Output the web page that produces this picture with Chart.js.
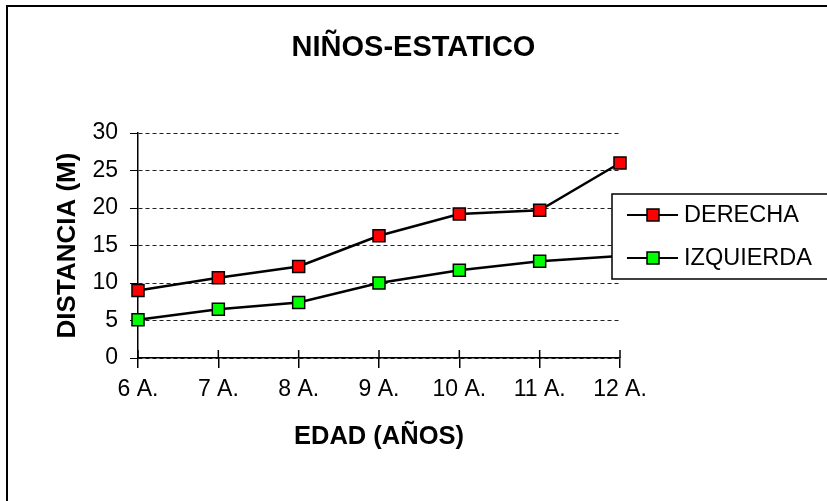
<!DOCTYPE html>
<html>
<head>
<meta charset="utf-8">
<script src="https://cdn.jsdelivr.net/npm/chart.js@4/dist/chart.umd.min.js"></script>
<style>
  html, body { margin: 0; padding: 0; background: #fff; }
  #wrap { width: 827px; height: 501px; }
</style>
</head>
<body>
<div id="wrap"><canvas id="myChart" width="827" height="501"></canvas></div>
<script>
// data
const edades = ['6 A.', '7 A.', '8 A.', '9 A.', '10 A.', '11 A.', '12 A.'];
const derecha = [9.0, 10.7, 12.2, 16.3, 19.2, 19.7, 26.0];
const izquierda = [5.1, 6.5, 7.4, 10.0, 11.7, 12.9, 13.6];
const yTicks = [0, 5, 10, 15, 20, 25, 30];

Chart.defaults.font.family = '"Liberation Sans", Arial, sans-serif';
Chart.defaults.color = '#000';

// frame lines round the picture (left + top only are visible)
const framePlugin = {
  id: 'frame',
  beforeDraw(chart) {
    const ctx = chart.ctx;
    ctx.save();
    ctx.fillStyle = '#fff';
    ctx.fillRect(0, 0, chart.width, chart.height);
    ctx.strokeStyle = '#000';
    ctx.lineWidth = 2;
    ctx.beginPath();
    ctx.moveTo(7, chart.height);
    ctx.lineTo(7, 6);
    ctx.lineTo(chart.width, 6);
    ctx.stroke();
    ctx.restore();
  }
};

// x tick marks also cross into the plot a little
const crossTicks = {
  id: 'crossTicks',
  afterDatasetsDraw(chart) {
    const x = chart.scales.x, ctx = chart.ctx, b = chart.chartArea.bottom;
    ctx.save();
    ctx.strokeStyle = '#000';
    ctx.lineWidth = 1.5;
    for (let i = 0; i < edades.length; i++) {
      const px = x.getPixelForTick(i);
      ctx.beginPath();
      ctx.moveTo(px, b - 8);
      ctx.lineTo(px, b);
      ctx.stroke();
    }
    ctx.restore();
  }
};

// legend box sits on top of the plot, like in the original
const boxLegend = {
  id: 'boxLegend',
  afterDraw(chart) {
    const ctx = chart.ctx;
    const left = 612, top = 194, bottom = 279;
    ctx.save();
    ctx.fillStyle = '#fff';
    ctx.fillRect(left, top, chart.width - left + 2, bottom - top);
    ctx.strokeStyle = '#000';
    ctx.lineWidth = 1.5;
    ctx.strokeRect(left, top, chart.width - left + 4, bottom - top);
    const rows = [215, 258];
    chart.data.datasets.forEach((ds, i) => {
      const y = rows[i];
      ctx.strokeStyle = '#000';
      ctx.lineWidth = 2;
      ctx.beginPath();
      ctx.moveTo(627, y);
      ctx.lineTo(678, y);
      ctx.stroke();
      ctx.fillStyle = ds.pointBackgroundColor;
      ctx.fillRect(647, y - 6, 12, 12);
      ctx.lineWidth = 1.5;
      ctx.strokeRect(647, y - 6, 12, 12);
      ctx.fillStyle = '#000';
      ctx.font = '23.5px "Liberation Sans", Arial, sans-serif';
      ctx.textBaseline = 'middle';
      ctx.textAlign = 'left';
      ctx.fillText(ds.label, 684, y + 1);
    });
    ctx.restore();
  }
};

new Chart(document.getElementById('myChart'), {
  type: 'line',
  data: {
    labels: edades,
    datasets: [
      {
        label: 'DERECHA',
        data: derecha,
        borderColor: '#000',
        borderWidth: 2.5,
        pointStyle: 'rect',
        pointRadius: 8.5,
        pointBackgroundColor: '#ff0000',
        pointBorderColor: '#000',
        pointBorderWidth: 1.5,
        tension: 0
      },
      {
        label: 'IZQUIERDA',
        data: izquierda,
        borderColor: '#000',
        borderWidth: 2.5,
        pointStyle: 'rect',
        pointRadius: 8.5,
        pointBackgroundColor: '#00ff00',
        pointBorderColor: '#000',
        pointBorderWidth: 1.5,
        tension: 0
      }
    ]
  },
  options: {
    responsive: false,
    animation: false,
    layout: { padding: { top: 0, left: 0, right: 0, bottom: 33 } },
    plugins: {
      legend: { display: false },
      tooltip: { enabled: false },
      title: {
        display: true,
        text: 'NIÑOS-ESTATICO',
        color: '#000',
        font: { size: 29, weight: 'bold', lineHeight: 1 },
        padding: { top: 33, bottom: 71 }
      }
    },
    scales: {
      x: {
        offset: false,
        grid: { drawOnChartArea: false, color: '#000', tickLength: 10, lineWidth: 1.5 },
        border: { color: '#000', width: 1.5 },
        ticks: { font: { size: 23 }, padding: 8, maxRotation: 0, autoSkip: false },
        title: {
          display: true,
          text: 'EDAD (AÑOS)',
          font: { size: 25.5, weight: 'bold', lineHeight: 1 },
          padding: { top: 0, bottom: 18 }
        },
        afterFit(scale) { scale.height = 110; }
      },
      y: {
        min: 0,
        max: 30,
        afterBuildTicks(scale) { scale.ticks = yTicks.map(v => ({ value: v })); },
        grid: { color: '#222', tickColor: '#000', tickLength: 8, lineWidth: 1 },
        border: { color: '#000', width: 1.5, dash: [4, 3] },
        ticks: { font: { size: 23 }, padding: 12 },
        title: {
          display: true,
          text: 'DISTANCIA (M)',
          font: { size: 26, weight: 'bold', lineHeight: 1 },
          padding: { top: 55, bottom: 0 }
        },
        afterFit(scale) { scale.width = 138; }
      },
      // empty right-hand box that keeps the plot narrow, so the title stays centred on the page
      spacer: {
        type: 'linear',
        position: 'right',
        display: true,
        grid: { display: false, drawTicks: false },
        border: { display: false },
        ticks: { display: false },
        afterFit(scale) { scale.width = 207; }
      }
    }
  },
  plugins: [framePlugin, crossTicks, boxLegend]
});
</script>
</body>
</html>
